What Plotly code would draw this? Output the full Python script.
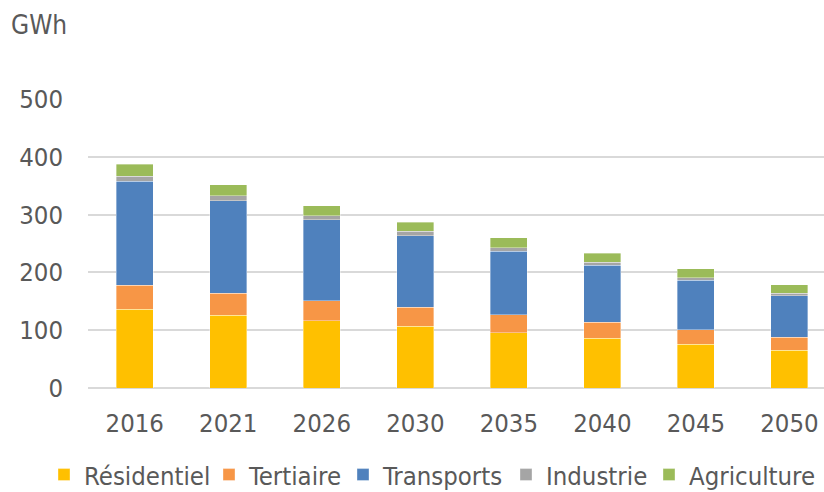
import plotly.graph_objects as go

years = ["2016", "2021", "2026", "2030", "2035", "2040", "2045", "2050"]
residentiel = [136, 126, 116, 107, 96, 86, 76, 65]
tertiaire = [42, 38, 35, 33, 31, 28, 25, 23]
transports = [180, 160, 140, 123, 110, 98, 85, 72]
industrie = [8, 9, 7, 8, 6, 6, 5, 4]
agriculture = [21, 19, 17, 16, 17, 15, 15, 15]

series = [
    ("Résidentiel", residentiel, "#FFC000"),
    ("Tertiaire", tertiaire, "#F79646"),
    ("Transports", transports, "#4F81BD"),
    ("Industrie", industrie, "#A5A5A5"),
    ("Agriculture", agriculture, "#9BBB59"),
]

FONT = "DejaVu Sans Condensed"
TXT = "#595959"
FS = 25.5

W, H = 824, 492
L, R, T, B = 88, 0, 99, 104
PW, PH = W - L - R, H - T - B

# legend text start pixels in the reference
text_px = [83, 248, 382, 545, 688]
legend_y_px = 475

fig = go.Figure()
legends = {}
for i, ((name, vals, col), tx) in enumerate(zip(series, text_px)):
    lg = "legend" if i == 0 else f"legend{i+1}"
    fig.add_trace(go.Bar(
        x=years, y=vals, name=name, legend=lg,
        marker=dict(color=col, line=dict(color="rgba(255,255,255,0.6)", width=0.6)),
    ))
    left_px = tx - 39
    legends[lg] = dict(
        orientation="h", x=(left_px - L) / PW, xanchor="left",
        y=-(legend_y_px - (T + PH)) / PH, yanchor="middle",
        font=dict(family=FONT, size=FS, color=TXT), itemwidth=30,
        bgcolor="rgba(0,0,0,0)", borderwidth=0,
    )

fig.update_layout(
    barmode="stack",
    bargap=0.604,
    width=W, height=H,
    margin=dict(l=L, r=R, t=T, b=B, autoexpand=False),
    paper_bgcolor="white", plot_bgcolor="white",
    font=dict(family=FONT, size=FS, color=TXT),
    showlegend=True,
    xaxis=dict(range=[-0.5, 7.37], showgrid=False, showline=False, zeroline=False,
               tickfont=dict(family=FONT, size=FS, color=TXT), ticklabelstandoff=17),
    yaxis=dict(range=[0, 500], dtick=100, showgrid=True, gridcolor="#D9D9D9", gridwidth=1.5,
               zeroline=True, zerolinecolor="#D9D9D9", zerolinewidth=1.5, showline=False,
               tickfont=dict(family=FONT, size=FS, color=TXT), ticklabelstandoff=24),
    annotations=[dict(text="GWh", xref="paper", yref="paper", x=(9 - L) / PW,
                      y=1 + (T - 25) / PH,
                      xanchor="left", yanchor="middle", showarrow=False,
                      font=dict(family=FONT, size=26, color=TXT))],
    **legends,
)

fig.write_html(
    "out.html",
    config={"displayModeBar": False},
    post_script="document.body.style.margin='0';document.body.style.overflow='hidden';",
)
